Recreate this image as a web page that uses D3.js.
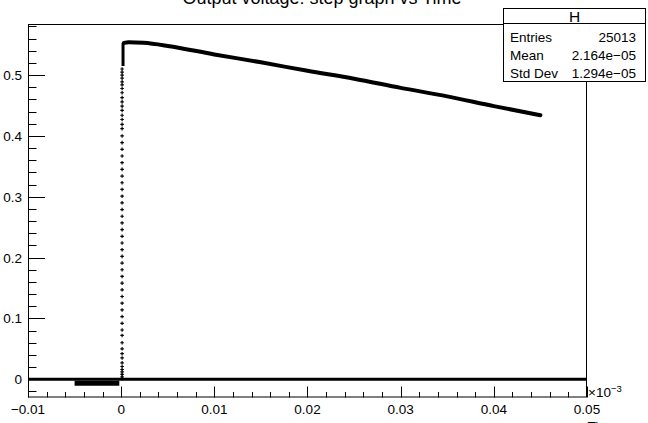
<!DOCTYPE html>
<html>
<head>
<meta charset="utf-8">
<title>H</title>
<script src="https://d3js.org/d3.v7.min.js"></script>
<style>
    body { margin: 0; background: #fff; }
    svg { display: block; font-family: "Liberation Sans", Arial, sans-serif; }
</style>
</head>
<body>
<script>
    // values (x in units of 1e-3)
    let xTicks = [-0.01, 0, 0.01, 0.02, 0.03, 0.04, 0.05];
    let yTicks = [0, 0.1, 0.2, 0.3, 0.4, 0.5];
    let tickLabel = ["\u22120.01", "0", "0.01", "0.02", "0.03", "0.04", "0.05"];

    // slow decay after the step
    let curveX = [0.0003, 0.0008, 0.0024, 0.005, 0.01, 0.015, 0.02, 0.025, 0.03, 0.035, 0.04, 0.045];
    let curveY = [0.553, 0.554, 0.553, 0.548, 0.534, 0.521, 0.507, 0.494, 0.479, 0.465, 0.449, 0.434];

    // sparse points on the rising edge
    let riseY = [0.001, 0.004, 0.008, 0.012, 0.016, 0.021, 0.027, 0.035, 0.042, 0.050, 0.060, 0.072, 0.081,
        0.092, 0.103, 0.114, 0.125, 0.136, 0.147, 0.158, 0.169, 0.180, 0.191, 0.202, 0.213, 0.224,
        0.235, 0.246, 0.257, 0.268, 0.279, 0.290, 0.301, 0.312, 0.323, 0.334, 0.345, 0.356, 0.367,
        0.378, 0.389, 0.400, 0.412, 0.419, 0.427, 0.434, 0.442, 0.449, 0.456, 0.463, 0.471, 0.478,
        0.484, 0.489, 0.495, 0.500, 0.505, 0.510];
    let riseX = 0.0001;

    // pre-trigger samples sit a bit under zero
    let preX = [-0.005, -0.0002];
    let preY = -0.0065;

    let stats = [["Entries", "25013"], ["Mean", "2.164e\u221205"], ["Std Dev", "1.294e\u221205"]];

    let W = 648, H = 423;
    let fr = {l: 28, r: 587, t: 24, b: 397.5};

    let svg = d3.select("body").append("svg").attr("width", W).attr("height", H);

    let x = d3.scaleLinear().domain([-0.01, 0.05]).range([fr.l, fr.r]);
    let y = d3.scaleLinear().domain([-0.03, 0.584]).range([fr.b, fr.t]);

    // title, mostly cut off by the top edge
    svg.append("text").attr("x", 322).attr("y", 4).attr("text-anchor", "middle")
        .attr("font-size", 18).text("Output voltage: step graph vs Time");

    // frame
    svg.append("rect").attr("x", fr.l + 0.5).attr("y", fr.t + 0.5)
        .attr("width", fr.r - fr.l - 1).attr("height", fr.b - fr.t - 1)
        .attr("fill", "none").attr("stroke", "#000");

    // x axis ticks (pointing up)
    let gx = svg.append("g");
    d3.range(-0.01, 0.05001, 0.002).forEach(v => {
        let major = Math.abs(Math.round(v * 100) - v * 100) < 1e-6;
        let px = Math.round(x(v)) + 0.5;
        gx.append("line").attr("x1", px).attr("x2", px)
            .attr("y1", fr.b).attr("y2", fr.b - (major ? 11 : 5.5)).attr("stroke", "#000");
    });
    gx.selectAll("text").data(xTicks).enter().append("text")
        .attr("x", d => x(d)).attr("y", 414).attr("text-anchor", "middle")
        .attr("font-size", 13.5).text((d, i) => tickLabel[i]);
    let mult = gx.append("text").attr("x", 588).attr("y", 397).attr("font-size", 13.5);
    mult.append("tspan").text("\u00d710");
    mult.append("tspan").attr("dy", -5).attr("font-size", 9.5).text("\u22123");
    svg.append("text").attr("x", fr.r + 30).attr("y", 431).attr("text-anchor", "end")
        .attr("font-size", 13.5).text("Time");

    // y axis ticks (pointing right)
    let gy = svg.append("g");
    d3.range(-0.02, 0.5801, 0.02).forEach(v => {
        let major = Math.abs(Math.round(v * 10) - v * 10) < 1e-6;
        let py = Math.round(y(v)) + 0.5;
        gy.append("line").attr("x1", fr.l).attr("x2", fr.l + (major ? 17 : 8.5))
            .attr("y1", py).attr("y2", py).attr("stroke", "#000");
    });
    gy.selectAll("text").data(yTicks).enter().append("text")
        .attr("x", 22).attr("y", d => y(d) + 5).attr("text-anchor", "end")
        .attr("font-size", 13.5).text(d => d === 0 ? "0" : d3.format(".1f")(d));

    // empty histogram drawn along zero
    svg.append("line").attr("x1", x(-0.01)).attr("x2", x(0.05))
        .attr("y1", y(0)).attr("y2", y(0)).attr("stroke", "#000").attr("stroke-width", 3);

    // pre-trigger band
    svg.append("line").attr("x1", x(preX[0])).attr("x2", x(preX[1]))
        .attr("y1", y(preY)).attr("y2", y(preY)).attr("stroke", "#000").attr("stroke-width", 5);

    // rising edge markers
    let cross = d3.symbol().type(d3.symbolCross).size(7);
    svg.append("g").selectAll("path").data(riseY).enter().append("path")
        .attr("d", cross).attr("fill", "#000")
        .attr("transform", d => `translate(${x(riseX)},${y(d)})`);
    svg.append("line").attr("x1", x(riseX + 0.0001)).attr("x2", x(riseX + 0.0001))
        .attr("y1", y(0.515)).attr("y2", y(0.553)).attr("stroke", "#000").attr("stroke-width", 3);

    // decay curve
    let line = d3.line().x(d => x(d[0])).y(d => y(d[1])).curve(d3.curveMonotoneX);
    svg.append("path").datum(d3.zip(curveX, curveY)).attr("d", line)
        .attr("fill", "none").attr("stroke", "#000").attr("stroke-width", 4)
        .attr("stroke-linecap", "round");

    // stats box
    let sb = svg.append("g");
    sb.append("rect").attr("x", 503.5).attr("y", 8.5).attr("width", 142).attr("height", 73)
        .attr("fill", "#fff").attr("stroke", "#000");
    sb.append("line").attr("x1", 503.5).attr("x2", 645.5).attr("y1", 23.5).attr("y2", 23.5)
        .attr("stroke", "#000");
    sb.append("text").attr("x", 574.5).attr("y", 21.5).attr("text-anchor", "middle")
        .attr("font-size", 15.5).text("H");
    stats.forEach((s, i) => {
        sb.append("text").attr("x", 510).attr("y", 42 + i * 18).attr("font-size", 13.5).text(s[0]);
        sb.append("text").attr("x", 636).attr("y", 42 + i * 18).attr("text-anchor", "end")
            .attr("font-size", 13.5).text(s[1]);
    });
</script>
</body>
</html>
